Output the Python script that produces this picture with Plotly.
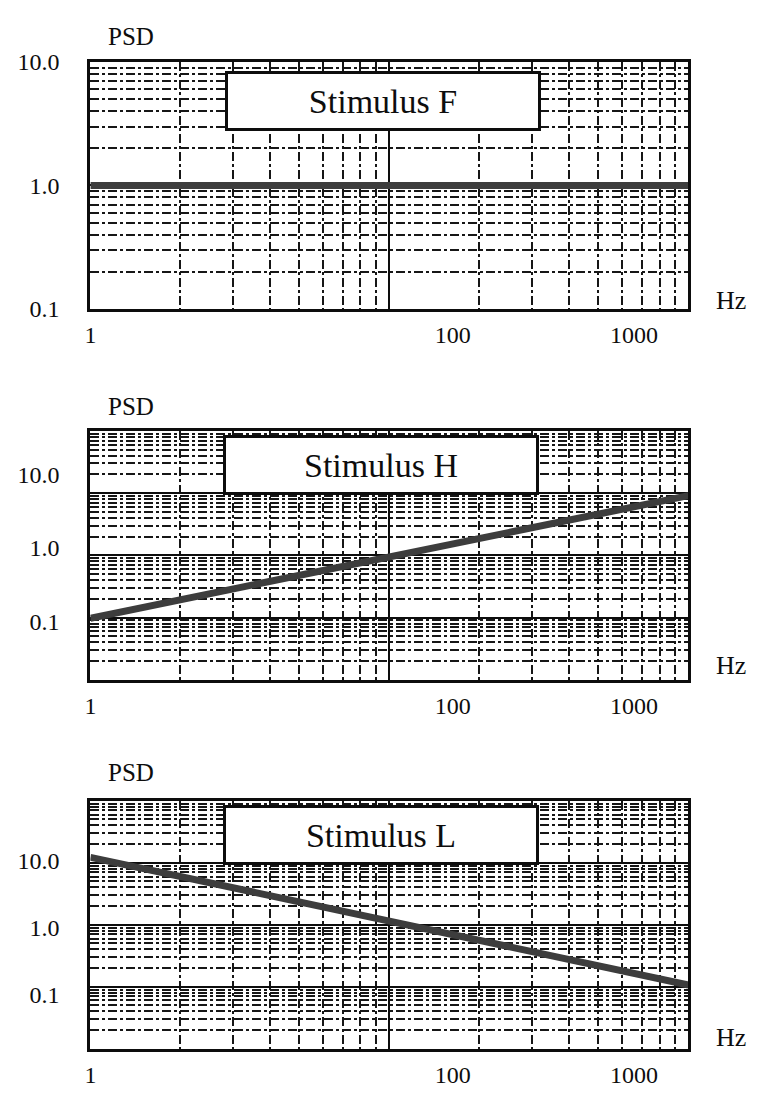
import plotly.graph_objects as go
import math

# ---- data ----
freq_F = [1, 2000]
psd_F = [1.0, 1.0]
freq_H = [1, 2000]
psd_H = [0.11, 5.2]
freq_L = [1, 2000]
psd_L = [11.0, 0.14]

panel_names = ["Stimulus F", "Stimulus H", "Stimulus L"]
x_tick_vals = [1, 100, 1000]
x_tick_text = ["1", "100", "1000"]
y_tick_vals = [0.1, 1, 10]
y_tick_text = ["0.1", "1.0", "10.0"]

series = [(freq_F, psd_F), (freq_H, psd_H), (freq_L, psd_L)]

# the page body keeps its default 8px margin, so the figure is drawn 8px in
OFF = 8
W, H = 757 - 2 * OFF, 1099 - 2 * OFF
SERIF = "Liberation Serif, Times New Roman, serif"
INK = "#0d0d0d"


def px_x(v):
    return (v - OFF) / W


def px_y(v):
    return 1 - (v - OFF) / H


# layout geometry (pixels in the window)
x_dom = [px_x(85), px_x(688)]
boxes_y = [(50, 303), (428, 683), (807, 1061)]
data_y_range = [[-1, 1], [-1.8, 1.6], [-1.8, 1.88]]
grid_y_range = [[-1, 1], [-2, 2], [-2, 2]]
label_box_center = [(380, 90), (378, 463), (378, 842)]
psd_pos = [(126, 24), (126, 403), (126, 778)]
hz_right = 748
hz_y = [294, 668, 1050]

fig = go.Figure()
layout = dict(
    width=W, height=H,
    margin=dict(l=0, r=0, t=0, b=0),
    paper_bgcolor="white", plot_bgcolor="white",
    showlegend=False,
    annotations=[],
)

x_max = math.log10(2000)

for i in range(3):
    g = i + 1          # grid (base) axes
    d = i + 4          # data axes overlaying the grid axes
    gx = "xaxis" if g == 1 else f"xaxis{g}"
    gy = "yaxis" if g == 1 else f"yaxis{g}"
    gxr = "x" if g == 1 else f"x{g}"
    gyr = "y" if g == 1 else f"y{g}"
    y0, y1 = boxes_y[i]
    ydom = [px_y(y1), px_y(y0)]

    grid_common = dict(
        type="log", showgrid=True, gridcolor=INK, gridwidth=2.4,
        dtick=1, tick0=0, showticklabels=False, ticks="",
        showline=True, mirror=True, linecolor=INK, linewidth=3,
        zeroline=False, fixedrange=True,
        minor=dict(dtick="D1", showgrid=True, gridcolor="#161616",
                   gridwidth=1.5, griddash="dashdot", ticks=""),
    )
    layout[gx] = dict(grid_common, domain=x_dom, range=[0, 2], anchor=gyr)
    layout[gy] = dict(grid_common, domain=ydom, range=grid_y_range[i], anchor=gxr)

    layout[f"xaxis{d}"] = dict(
        type="log", range=[0, x_max], overlaying=gxr, anchor=f"y{d}",
        showgrid=False, zeroline=False, showline=False,
        tickvals=x_tick_vals, ticktext=x_tick_text,
        ticks="outside", ticklen=0, ticklabelstandoff=4,
        tickfont=dict(family=SERIF, size=24, color=INK),
    )
    layout[f"yaxis{d}"] = dict(
        type="log", range=data_y_range[i], overlaying=gyr, anchor=f"x{d}",
        showgrid=False, zeroline=False, showline=False,
        tickvals=y_tick_vals, ticktext=y_tick_text,
        ticks="outside", ticklen=0, ticklabelstandoff=25,
        tickfont=dict(family=SERIF, size=24, color=INK),
    )

    # empty trace so the grid subplot is created
    fig.add_trace(go.Scatter(x=[], y=[], xaxis=gxr, yaxis=gyr,
                             hoverinfo="skip", showlegend=False))
    fx, fy = series[i]
    fig.add_trace(go.Scatter(
        x=fx, y=fy, mode="lines", xaxis=f"x{d}", yaxis=f"y{d}",
        line=dict(color="#3d3d3d", width=7), showlegend=False,
    ))

    cx, cy = label_box_center[i]
    layout["annotations"].append(dict(
        text=panel_names[i], xref="paper", yref="paper",
        x=px_x(cx), y=px_y(cy), xanchor="center", yanchor="middle",
        showarrow=False, width=310, height=54, bgcolor="white",
        bordercolor=INK, borderwidth=3, borderpad=0,
        font=dict(family=SERIF, size=34, color=INK),
    ))
    px, py = psd_pos[i]
    layout["annotations"].append(dict(
        text="PSD", xref="paper", yref="paper", x=px_x(px), y=px_y(py),
        xanchor="center", yanchor="middle", showarrow=False,
        font=dict(family=SERIF, size=25, color=INK),
    ))
    layout["annotations"].append(dict(
        text="Hz", xref="paper", yref="paper", x=px_x(hz_right), y=px_y(hz_y[i]),
        xanchor="right", yanchor="middle", showarrow=False,
        font=dict(family=SERIF, size=26, color=INK),
    ))

fig.update_layout(**layout)
fig.write_html("out.html")
